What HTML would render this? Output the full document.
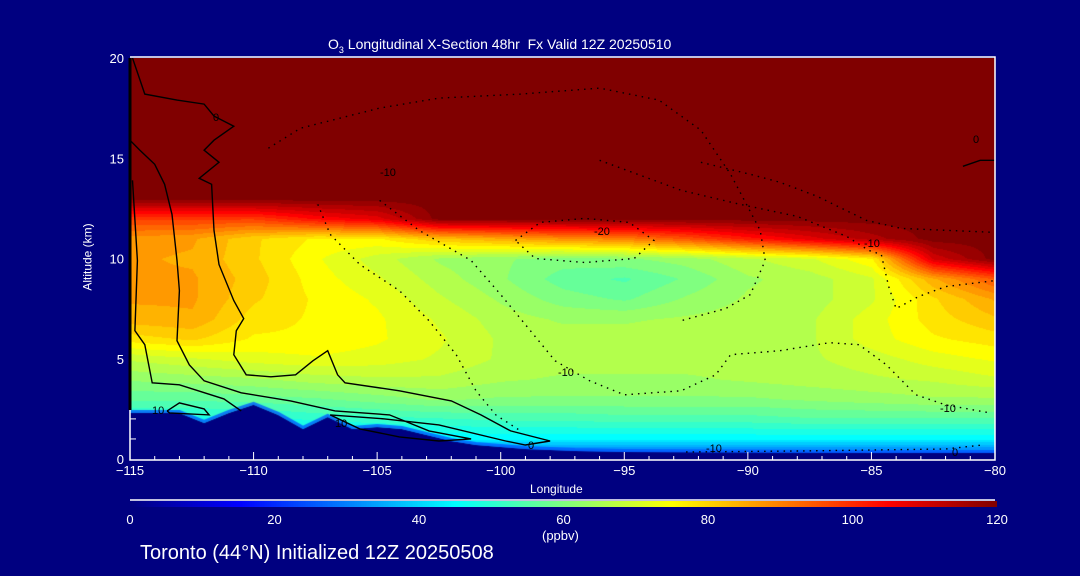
<!DOCTYPE html>
<html><head><meta charset="utf-8">
<style>
html,body{margin:0;padding:0;background:#000080;}
#root{position:relative;width:1080px;height:576px;background:#000080;overflow:hidden;font-family:"Liberation Sans",sans-serif;color:#fff;}
.t{position:absolute;white-space:nowrap;font-size:13px;color:#fff;}
canvas{position:absolute;}
svg{position:absolute;left:0;top:0;}
</style></head>
<body>
<div id="root">
<div class="t" style="left:328px;top:36px;font-size:14px;">O<sub style="font-size:9px">3</sub> Longitudinal X-Section 48hr&nbsp; Fx Valid 12Z 20250510</div>
<canvas id="plot" width="865" height="402" style="left:130px;top:58px;"></canvas>
<canvas id="cbar" width="867" height="6" style="left:130px;top:501px;"></canvas>
<svg id="ov" width="1080" height="576"></svg>
<div class="t" style="left:530px;top:482px;font-size:12px;">Longitude</div>
<div class="t" style="left:54px;top:250px;font-size:12px;transform:rotate(-90deg);">Altitude (km)</div>
<div class="t" style="left:542px;top:528px;font-size:13px;">(ppbv)</div>
<div class="t" style="left:140px;top:542px;font-size:20px;">Toronto (44°N) Initialized 12Z 20250508</div>
</div>
<script>
const lons=[-115,-112.5,-110,-107.5,-105,-102.5,-100,-97.5,-95,-92.5,-90,-87.5,-85,-82.5,-80];
const alts=[0,1,2,3,4,5,6,7,8,9,10,11,12,13,14,15,16,17,18,19,20];
const o3W1=[20,40,48,56,62,68,78,84,86,86,86,87,98,120,120,120,120,120,120,120,120];
const o3W2=[20,40,48,56,63,70,80,85,86,86,85,86,98,120,120,120,120,120,120,120,120];
const o3W3=[20,40,48,57,64,72,76,78,80,81,80,80,98,120,120,120,120,120,120,120,120];
const o3W4=[20,42,50,58,66,73,76,76,76,75,74,76,104,120,120,120,120,120,120,120,120];
const o3W5=[20,43,51,60,67,72,74,74,73,71,69,76,108,120,120,120,120,120,120,120,120];
const o3C1=[20,44,52,62,67,70,71,70,68,66,64,82,120,120,120,120,120,120,120,120,120];
const o3C2=[20,44,53,61,65,67,67,66,64,62,62,85,120,120,120,120,120,120,120,120,120];
const o3C3=[20,44,53,61,64,66,66,64,60,57,60,88,120,120,120,120,120,120,120,120,120];
const o3C4=[20,44,54,61,64,66,66,64,58,55,61,90,120,120,120,120,120,120,120,120,120];
const o3C5=[20,44,54,61,64,66,67,65,62,59,63,95,120,120,120,120,120,120,120,120,120];
const o3E1=[20,44,54,61,65,66,67,66,65,64,67,102,120,120,120,120,120,120,120,120,120];
const o3E2=[20,44,55,62,66,67,67,67,66,66,70,108,120,120,120,120,120,120,120,120,120];
const o3E3=[20,44,55,63,67,69,72,72,70,70,76,114,120,120,120,120,120,120,120,120,120];
const o3E4=[20,44,55,64,68,72,76,78,79,85,110,120,120,120,120,120,120,120,120,120,120];
const o3E5=[20,44,55,64,70,74,78,82,86,95,120,120,120,120,120,120,120,120,120,120,120];
const o3Cols=[o3W1,o3W2,o3W3,o3W4,o3W5,o3C1,o3C2,o3C3,o3C4,o3C5,o3E1,o3E2,o3E3,o3E4,o3E5];
const terrainLon=[-115,-114,-113,-112,-111,-110,-109,-108,-107,-106,-105,-104,-103,-102,-101,-100,-99,-98,-97,-96,-95,-90,-85,-80];
const terrainAlt=[2.3,2.3,2.3,1.8,2.3,2.7,2.2,1.5,2.1,1.5,1.6,1.5,1.2,0.9,0.7,0.6,0.5,0.45,0.4,0.38,0.35,0.32,0.3,0.3];
const xTicks=[-115,-110,-105,-100,-95,-90,-85,-80];
const yTicks=[0,5,10,15,20];
const cbTicks=[0,20,40,60,80,100,120];
const solid1=[[-114.9,20],[-114.4,18.2],[-113.1,17.9],[-112,17.7],[-111.6,17.1],[-110.8,16.6],[-111.6,15.9],[-112,15.4],[-111.4,14.8],[-112.2,14.0],[-111.7,13.7],[-111.6,11.4],[-111.4,9.7],[-110.8,7.9],[-110.4,7.0],[-110.7,6.4],[-110.8,5.2],[-110.3,4.2],[-109.3,4.1],[-108.3,4.2],[-107.6,4.9],[-107,5.4],[-106.6,4.2],[-106.3,3.8],[-104.1,3.4],[-102,2.9],[-100.8,2.2],[-99.6,1.4],[-98,0.9],[-99,0.7],[-99.8,0.9],[-102.5,1.7],[-104.7,2.0],[-106.9,2.2]];
const solid2=[[-115,15.9],[-114.6,15.4],[-114,14.7],[-113.6,13.7],[-113.3,12.2],[-113.1,9.9],[-113,8.4],[-113.1,5.9],[-112.6,4.7],[-112,3.9],[-110.5,3.3],[-108.5,2.9],[-106.7,2.4],[-104.5,2.2],[-102.9,1.4],[-101.2,1.0],[-102.5,0.9],[-104.1,1.1],[-105.7,1.5],[-106.9,2.2]];
const solid3=[[-114.9,13.9],[-114.7,9.9],[-114.8,6.4],[-114.4,5.7],[-114.1,3.8],[-113,3.7],[-111.2,3.0],[-110.5,2.4]];
const solid4=[[-113.5,2.4],[-113,2.8],[-112,2.5],[-111.8,2.2],[-113.4,2.3],[-113.5,2.4]];
const solid5=[[-81.3,14.6],[-80.6,14.9],[-80,14.9]];
const dot1=[[-109.4,15.5],[-108.1,16.5],[-104.9,17.5],[-102.5,18.0],[-99.2,18.2],[-96,18.5],[-93.6,17.9],[-91.9,16.4],[-90.7,14.2],[-89.5,11.4],[-89.3,9.9],[-89.9,8.2],[-90.9,7.5],[-92.7,6.9]];
const dot2=[[-107.4,12.7],[-106.9,11.2],[-105.7,9.7],[-104.1,8.4],[-102.9,6.9],[-101.8,5.2],[-101,3.4],[-100.2,2.2],[-99.2,1.4]];
const dot3=[[-104.9,12.9],[-103.3,11.4],[-101.2,9.9],[-100,8.2],[-98.8,6.4],[-97.8,4.9],[-96.4,3.9],[-95,3.2],[-92.7,3.4],[-91.3,4.2],[-90.7,5.2],[-88.7,5.4],[-86.7,5.8],[-85.5,5.7],[-84.4,4.7],[-83.2,3.2],[-82,2.7],[-80.2,2.3]];
const dot4=[[-99.4,10.9],[-98.4,11.8],[-96.6,12.0],[-94.8,11.8],[-93.8,10.9],[-94.6,10.0],[-96.6,9.8],[-98.6,10.0],[-99.4,10.9]];
const dot5=[[-96,14.9],[-92.7,13.4],[-90.3,12.7],[-88,12.1],[-86,11.1],[-85.1,10.4],[-84.6,10.2],[-84.3,8.6],[-84,7.5],[-83.1,8.1],[-82,8.6],[-80,8.9]];
const dot6=[[-91.9,14.8],[-89.9,14.2],[-88.7,13.8],[-87.2,13.1],[-85.2,11.9],[-83.8,11.5],[-80,11.3]];
const dot7=[[-92.5,0.35],[-88,0.4],[-85,0.45],[-82,0.5],[-80.5,0.7]];

const X0=130,X1=995,Y0=459,Y1=58;
function xs(l){return X0+(l+115)/35*(X1-X0);}
function ys(a){return Y0+(a/20)*(Y1-Y0);}
function jet(v){
  let t=Math.max(0,Math.min(1,v/120));
  function c(x){return Math.max(0,Math.min(1,x));}
  const r=c(1.5-Math.abs(4*t-3)), g=c(1.5-Math.abs(4*t-2)), b=c(1.5-Math.abs(4*t-1));
  return [Math.round(r*255),Math.round(g*255),Math.round(b*255)];
}
function sample(l,a){
  let i=(l+115)/2.5; i=Math.max(0,Math.min(lons.length-1.0001,i));
  let j=Math.max(0,Math.min(alts.length-1.0001,a));
  const i0=Math.floor(i),j0=Math.floor(j),fi=i-i0,fj=j-j0;
  const A=o3Cols[i0],B=o3Cols[i0+1];
  return (A[j0]*(1-fi)+B[j0]*fi)*(1-fj)+(A[j0+1]*(1-fi)+B[j0+1]*fi)*fj;
}
const cv=document.getElementById('plot'),ctx=cv.getContext('2d');
const W=cv.width,H=cv.height,img=ctx.createImageData(W,H);
for(let py=0;py<H;py++){
  const a=(Y0-(py+58))/(Y0-Y1)*20;
  for(let px=0;px<W;px++){
    const l=-115+(px)/(X1-X0)*35;
    let v=sample(l,a); v=Math.round(v/3)*3;
    const c=jet(v),k=(py*W+px)*4;
    img.data[k]=c[0];img.data[k+1]=c[1];img.data[k+2]=c[2];img.data[k+3]=255;
  }
}
ctx.putImageData(img,0,0);
ctx.fillStyle='rgb(0,0,128)';ctx.beginPath();ctx.moveTo(0,H);
terrainLon.forEach((l,i)=>ctx.lineTo(xs(l)-130,ys(terrainAlt[i])-58));
ctx.lineTo(W,H);ctx.closePath();ctx.fill();
ctx.strokeStyle='rgba(0,90,255,0.8)';ctx.lineWidth=3;ctx.beginPath();
terrainLon.forEach((l,i)=>{const x=xs(l)-130,y=ys(terrainAlt[i])-58-1.5;i?ctx.lineTo(x,y):ctx.moveTo(x,y);});ctx.stroke();
const cb=document.getElementById('cbar'),cc=cb.getContext('2d');
for(let x=0;x<cb.width;x++){const c=jet(x/(cb.width-1)*120);cc.fillStyle='rgb('+c+')';cc.fillRect(x,0,1,6);}
const NS='http://www.w3.org/2000/svg',ov=document.getElementById('ov');
function mk(tag,at){const e=document.createElementNS(NS,tag);for(const k in at)e.setAttribute(k,at[k]);ov.appendChild(e);return e;}
function line(pts,dotted,name){
  const d=pts.map((p,i)=>(i?'L':'M')+xs(p[0]).toFixed(1)+' '+ys(p[1]).toFixed(1)).join(' ');
  const e=mk('path',{d:d,fill:'none',stroke:'#000','stroke-width':1.4,'stroke-dasharray':dotted?'1.5 5':'none'});
  
  
}
line(solid1,false,'contour-0-upper');line(solid2,false,'contour-positive-2');line(solid3,false,'contour-positive-3');
line(solid4,false,'contour-10-loop');line(solid5,false,'contour-0-east');
line(dot1,true,'contour-neg10-upper');line(dot2,true,'contour-neg10-diag');line(dot3,true,'contour-neg10-lower');
line(dot4,true,'contour-neg20');line(dot5,true,'contour-neg10-east');line(dot6,true,'contour-neg-east2');line(dot7,true,'contour-neg10-surface');
const lb=mk('line',{x1:130,y1:58,x2:130,y2:410,stroke:'#000','stroke-width':3});


const labs=[[213,121,'0'],[380,176,'-10'],[594,235,'-20'],[558,376,'-10'],[864,247,'-10'],[940,412,'-10'],[152,414,'10'],[335,427,'10'],[528,449,'0'],[706,452,'-10'],[952,456,'0'],[973,143,'0']];
labs.forEach(l=>{const t=mk('text',{x:l[0],y:l[1],fill:'#000','font-size':11,'font-family':'Liberation Sans, sans-serif'});t.textContent=l[2];
 
 });
const fr=mk('path',{d:`M${X0} ${Y1-1}H${X1}V${Y0+1}H${X0}V410`,fill:'none',stroke:'#fff','stroke-width':1.5});


for(let l=-115;l<=-80;l++){
  const maj=(l%5===0);const x=xs(l);
  const tk=mk('line',{x1:x,y1:Y0+1,x2:x,y2:Y0+1-(maj?8:4),stroke:'#fff','stroke-width':1});
  
  
}
[1,2].forEach(a=>{const tk=mk('line',{x1:X0,y1:ys(a),x2:X0+6,y2:ys(a),stroke:'#fff','stroke-width':1});
 
 });
xTicks.forEach(l=>{const t=mk('text',{x:xs(l),y:475,fill:'#fff','font-size':13,'text-anchor':'middle','font-family':'Liberation Sans, sans-serif'});t.textContent=l<0?'\u2212'+(-l):l;
 
 });
yTicks.forEach(a=>{const t=mk('text',{x:124,y:ys(a)+5,fill:'#fff','font-size':13,'text-anchor':'end','font-family':'Liberation Sans, sans-serif'});t.textContent=a;
 
 });
const cl=mk('line',{x1:130,y1:500,x2:995,y2:500,stroke:'#fff','stroke-width':1.5});


cbTicks.forEach(v=>{const t=mk('text',{x:130+v/120*867,y:524,fill:'#fff','font-size':13,'text-anchor':'middle','font-family':'Liberation Sans, sans-serif'});t.textContent=v;
 
 });
</script>
</body></html>
